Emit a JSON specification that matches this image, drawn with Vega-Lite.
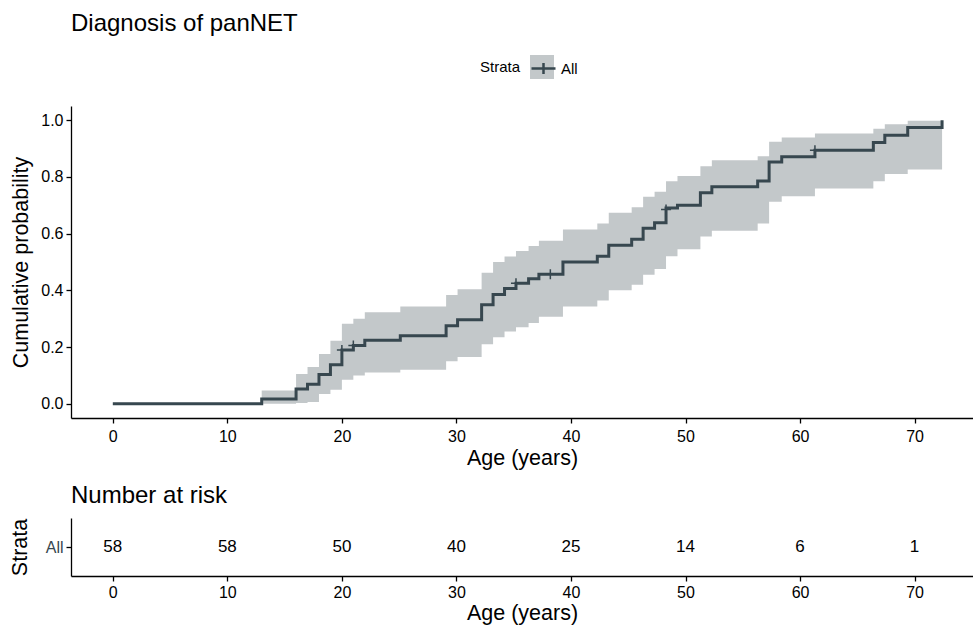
{
  "$schema": "https://vega.github.io/schema/vega-lite/v6.json",
  "background": "white",
  "padding": {"left": 9, "top": 12, "right": 0, "bottom": 5},
  "spacing": 15,
  "config": {
    "view": {"stroke": null},
    "font": "Liberation Sans",
    "axis": {
      "grid": false,
      "domainColor": "black",
      "domainWidth": 1.3,
      "tickColor": "black",
      "tickWidth": 1.3,
      "tickSize": 5,
      "labelColor": "black",
      "labelFontSize": 16,
      "labelFont": "Liberation Sans",
      "titleFont": "Liberation Sans",
      "titleFontSize": 21.5,
      "titleFontWeight": "normal",
      "titleColor": "black"
    },
    "title": {"font": "Liberation Sans", "fontSize": 24, "fontWeight": "normal", "color": "black", "anchor": "start", "frame": "group"}
  },
  "datasets": {
    "km": [
      {"age": 0, "est": 0, "lo": 0, "hi": 0, "strata": "All", "band": "All"},
      {"age": 13, "est": 0.017, "lo": 0, "hi": 0.047, "strata": "All", "band": "All"},
      {"age": 16, "est": 0.052, "lo": 0.003, "hi": 0.105, "strata": "All", "band": "All"},
      {"age": 17, "est": 0.069, "lo": 0.006, "hi": 0.13, "strata": "All", "band": "All"},
      {"age": 18, "est": 0.103, "lo": 0.035, "hi": 0.176, "strata": "All", "band": "All"},
      {"age": 19, "est": 0.138, "lo": 0.05, "hi": 0.222, "strata": "All", "band": "All"},
      {"age": 20, "est": 0.19, "lo": 0.085, "hi": 0.282, "strata": "All", "band": "All"},
      {"age": 21, "est": 0.206, "lo": 0.1, "hi": 0.3, "strata": "All", "band": "All"},
      {"age": 22, "est": 0.224, "lo": 0.11, "hi": 0.323, "strata": "All", "band": "All"},
      {"age": 25.1, "est": 0.24, "lo": 0.12, "hi": 0.343, "strata": "All", "band": "All"},
      {"age": 29.1, "est": 0.275, "lo": 0.15, "hi": 0.384, "strata": "All", "band": "All"},
      {"age": 30.1, "est": 0.296, "lo": 0.165, "hi": 0.404, "strata": "All", "band": "All"},
      {"age": 32.2, "est": 0.349, "lo": 0.21, "hi": 0.462, "strata": "All", "band": "All"},
      {"age": 33.2, "est": 0.385, "lo": 0.235, "hi": 0.5, "strata": "All", "band": "All"},
      {"age": 34.2, "est": 0.407, "lo": 0.255, "hi": 0.519, "strata": "All", "band": "All"},
      {"age": 35.2, "est": 0.425, "lo": 0.27, "hi": 0.539, "strata": "All", "band": "All"},
      {"age": 36.3, "est": 0.441, "lo": 0.285, "hi": 0.556, "strata": "All", "band": "All"},
      {"age": 37.2, "est": 0.457, "lo": 0.307, "hi": 0.575, "strata": "All", "band": "All"},
      {"age": 39.3, "est": 0.5, "lo": 0.343, "hi": 0.615, "strata": "All", "band": "All"},
      {"age": 42.3, "est": 0.52, "lo": 0.364, "hi": 0.636, "strata": "All", "band": "All"},
      {"age": 43.3, "est": 0.559, "lo": 0.4, "hi": 0.674, "strata": "All", "band": "All"},
      {"age": 45.3, "est": 0.58, "lo": 0.42, "hi": 0.693, "strata": "All", "band": "All"},
      {"age": 46.3, "est": 0.619, "lo": 0.455, "hi": 0.73, "strata": "All", "band": "All"},
      {"age": 47.3, "est": 0.638, "lo": 0.475, "hi": 0.748, "strata": "All", "band": "All"},
      {"age": 48.3, "est": 0.69, "lo": 0.52, "hi": 0.785, "strata": "All", "band": "All"},
      {"age": 49.3, "est": 0.7, "lo": 0.545, "hi": 0.803, "strata": "All", "band": "All"},
      {"age": 51.3, "est": 0.744, "lo": 0.59, "hi": 0.838, "strata": "All", "band": "All"},
      {"age": 52.3, "est": 0.765, "lo": 0.61, "hi": 0.859, "strata": "All", "band": "All"},
      {"age": 56.3, "est": 0.786, "lo": 0.636, "hi": 0.873, "strata": "All", "band": "All"},
      {"age": 57.3, "est": 0.853, "lo": 0.712, "hi": 0.924, "strata": "All", "band": "All"},
      {"age": 58.4, "est": 0.871, "lo": 0.732, "hi": 0.939, "strata": "All", "band": "All"},
      {"age": 61.3, "est": 0.894, "lo": 0.759, "hi": 0.953, "strata": "All", "band": "All"},
      {"age": 66.4, "est": 0.921, "lo": 0.785, "hi": 0.97, "strata": "All", "band": "All"},
      {"age": 67.4, "est": 0.947, "lo": 0.81, "hi": 0.986, "strata": "All", "band": "All"},
      {"age": 69.4, "est": 0.974, "lo": 0.826, "hi": 0.998, "strata": "All", "band": "All"},
      {"age": 72.4, "est": 1.0, "lo": 0.826, "hi": 0.998, "strata": "All", "band": "All"}
    ],
    "censor": [
      {"age": 20, "est": 0.19},
      {"age": 21, "est": 0.206},
      {"age": 35.2, "est": 0.425},
      {"age": 38.2, "est": 0.457},
      {"age": 48.3, "est": 0.685},
      {"age": 61.3, "est": 0.894}
    ],
    "risk": [
      {"time": 0, "n": 58, "strata": "All"},
      {"time": 10, "n": 58, "strata": "All"},
      {"time": 20, "n": 50, "strata": "All"},
      {"time": 30, "n": 40, "strata": "All"},
      {"time": 40, "n": 25, "strata": "All"},
      {"time": 50, "n": 14, "strata": "All"},
      {"time": 60, "n": 6, "strata": "All"},
      {"time": 70, "n": 1, "strata": "All"}
    ]
  },
  "vconcat": [
    {
      "title": {"text": "Diagnosis of panNET", "offset": 70},
      "width": 902,
      "height": 312,
      "layer": [
        {
          "data": {"name": "km"},
          "mark": {"type": "area", "interpolate": "step-after"},
          "encoding": {
            "x": {"field": "age", "type": "quantitative", "scale": {"domain": [-3.65, 75.1], "nice": false, "zero": false},
              "axis": {"title": "Age (years)", "values": [0, 10, 20, 30, 40, 50, 60, 70], "labelPadding": 5, "titlePadding": 3}},
            "y": {"field": "lo", "type": "quantitative", "scale": {"domain": [-0.05, 1.05], "nice": false, "zero": false},
              "axis": {"title": "Cumulative probability", "values": [0, 0.2, 0.4, 0.6, 0.8, 1.0], "format": ".1f", "labelPadding": 3, "titlePadding": 8}},
            "y2": {"field": "hi"},
            "fill": {"field": "band", "type": "nominal", "scale": {"range": ["#c3c8ca"]},
              "legend": {"orient": "none", "legendX": 459, "legendY": -51, "direction": "horizontal", "title": null,
                "labelFontSize": 15, "labelColor": "black", "labelOffset": 4, "labelExpr": "''",
                "symbolType": "square", "symbolSize": 576, "symbolStrokeWidth": 0, "symbolOpacity": 1, "zindex": 0}}
          }
        },
        {
          "data": {"name": "km"},
          "mark": {"type": "line", "interpolate": "step-after", "strokeWidth": 3},
          "encoding": {
            "x": {"field": "age", "type": "quantitative"},
            "y": {"field": "est", "type": "quantitative"},
            "stroke": {"field": "strata", "type": "nominal", "scale": {"range": ["#37474F"]},
              "legend": {"orient": "none", "legendX": 409, "legendY": -51, "direction": "horizontal", "title": "Strata", "titleOrient": "left",
                "titleFontSize": 15, "titleFontWeight": "normal", "titleColor": "black", "titlePadding": 9, "titleBaseline": "middle",
                "labelFontSize": 15, "labelColor": "black", "labelOffset": 4,
                "symbolType": "M-1,0H1M0,-0.45V0.45", "symbolSize": 576, "symbolStrokeWidth": 2.5, "zindex": 1}}
          }
        },
        {
          "data": {"name": "censor"},
          "mark": {"type": "point", "shape": "M-1,0H1M0,-1V1", "filled": false, "stroke": "#37474F", "strokeWidth": 1.5, "size": 100, "opacity": 1},
          "encoding": {
            "x": {"field": "age", "type": "quantitative"},
            "y": {"field": "est", "type": "quantitative"}
          }
        }
      ]
    },
    {
      "title": {"text": "Number at risk", "offset": 10},
      "width": 902,
      "height": 58,
      "data": {"name": "risk"},
      "mark": {"type": "text", "fontSize": 17, "color": "black", "font": "Liberation Sans"},
      "encoding": {
        "x": {"field": "time", "type": "quantitative", "scale": {"domain": [-3.65, 75.1], "nice": false, "zero": false},
          "axis": {"title": "Age (years)", "values": [0, 10, 20, 30, 40, 50, 60, 70], "labelPadding": 3, "titlePadding": 2}},
        "y": {"field": "strata", "type": "nominal", "axis": {"title": "Strata", "labelColor": "#37474F", "labelPadding": 3, "titlePadding": 14}},
        "text": {"field": "n", "type": "quantitative"}
      }
    }
  ]
}
